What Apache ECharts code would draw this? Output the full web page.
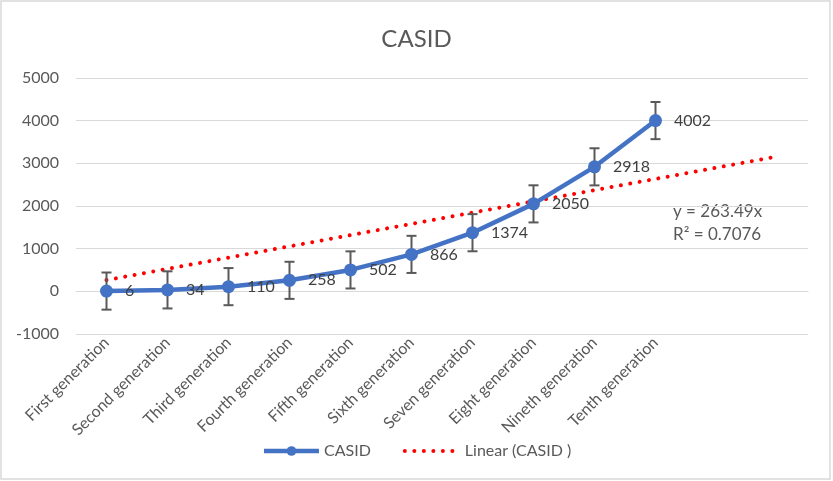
<!DOCTYPE html>
<html>
<head>
<meta charset="utf-8">
<script src="https://cdn.jsdelivr.net/npm/echarts@6/dist/echarts.min.js"></script>
<style>html,body{margin:0;padding:0;background:#fff;}#c{width:833px;height:481px;}</style>
</head>
<body>
<div id="c"></div>
<script>
const categories = ['First generation','Second generation','Third generation','Fourth generation','Fifth generation','Sixth generation','Seven generation','Eight generation','Nineth generation','Tenth generation','',''];
const casid = [6, 34, 110, 258, 502, 866, 1374, 2050, 2918, 4002];
const errorAmount = 435;
const trendPoints = [[0, 263.49], [11, 3161.88]];
const yTicks = {min: -1000, max: 5000, interval: 1000};
const trendText = ['y = 263.49x', 'R\u00b2 = 0.7076'];

const FONT = 'Lato, "Liberation Sans", sans-serif';
const chart = echarts.init(document.getElementById('c'), null, {renderer: 'canvas'});
chart.setOption({
  animation: false,
  textStyle: {fontFamily: FONT},
  title: {text: 'CASID', left: 'center', top: 22, textStyle: {fontFamily: FONT, fontSize: 24, fontWeight: 'normal', color: '#595959'}},
  grid: {left: 76, right: 25, top: 78, bottom: 147},
  legend: {
    bottom: 17, left: 'center', itemWidth: 55, itemHeight: 12, itemGap: 32,
    textStyle: {fontFamily: FONT, fontSize: 16, color: '#595959'},
    data: [
      {name: 'CASID', lineStyle: {width: 4.5}},
      {name: 'Linear (CASID )', itemStyle: {opacity: 0}, lineStyle: {width: 4, type: [0.01, 9.5], cap: 'round'}}
    ]
  },
  xAxis: {
    type: 'category', data: categories, boundaryGap: true,
    axisLine: {show: true, onZero: true, lineStyle: {color: '#d9d9d9'}},
    axisTick: {show: false},
    axisLabel: {rotate: 45, fontSize: 16, color: '#595959', interval: 0, margin: 6, fontFamily: FONT},
    splitLine: {show: false}
  },
  yAxis: {
    type: 'value', min: yTicks.min, max: yTicks.max, interval: yTicks.interval,
    axisLine: {show: false}, axisTick: {show: false},
    axisLabel: {fontSize: 16, color: '#595959', margin: 17, fontFamily: FONT, formatter: v => String(v)},
    splitLine: {lineStyle: {color: '#d9d9d9', width: 1}}
  },
  series: [
    {
      name: 'Linear (CASID )', type: 'line', data: trendPoints, symbol: 'none', z: 2,
      lineStyle: {color: '#ff0000', width: 4, type: [0.01, 9.5], cap: 'round'},
      itemStyle: {color: '#ff0000'}
    },
    {
      name: 'errors', type: 'custom', z: 3,
      data: casid.map((v, i) => [i, v - errorAmount, v + errorAmount]),
      renderItem: function (params, api) {
        const lo = api.coord([api.value(0), api.value(1)]);
        const hi = api.coord([api.value(0), api.value(2)]);
        const hw = 5;
        const st = {stroke: '#595959', lineWidth: 2};
        return {type: 'group', children: [
          {type: 'line', shape: {x1: lo[0], y1: lo[1], x2: hi[0], y2: hi[1]}, style: st},
          {type: 'line', shape: {x1: lo[0]-hw, y1: lo[1], x2: lo[0]+hw, y2: lo[1]}, style: st},
          {type: 'line', shape: {x1: hi[0]-hw, y1: hi[1], x2: hi[0]+hw, y2: hi[1]}, style: st}
        ]};
      },
      encode: {x: 0, y: [1, 2]}
    },
    {
      name: 'CASID', type: 'line', data: casid, z: 4,
      symbol: 'circle', symbolSize: 13,
      lineStyle: {color: '#4472C4', width: 4.5},
      itemStyle: {color: '#4472C4'},
      label: {show: true, position: 'right', distance: 12, fontSize: 16, color: '#404040', fontFamily: FONT}
    }
  ],
  graphic: [
    {type: 'rect', shape: {x: 1, y: 1, width: 829, height: 478}, style: {fill: 'none', stroke: '#d9d9d9', lineWidth: 1.5}, silent: true, z: -1},
    {type: 'text', left: 673, top: 203, style: {text: trendText[0], font: '17px ' + FONT, fill: '#595959'}},
    {type: 'text', left: 673, top: 226, style: {text: trendText[1], font: '17px ' + FONT, fill: '#595959'}}
  ]
});
</script>
</body>
</html>
